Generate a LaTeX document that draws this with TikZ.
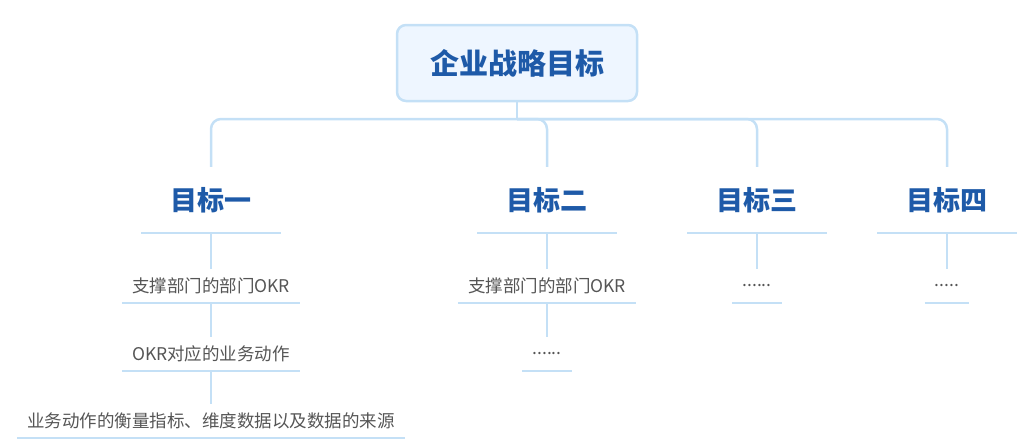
\documentclass[tikz,border=0pt]{standalone}
\usepackage{fontspec}
\setmainfont{Noto Sans CJK SC}
\usetikzlibrary{positioning}
\definecolor{goal_blue}{RGB}{30,90,168}
\definecolor{line_blue}{RGB}{196,224,246}
\definecolor{box_fill}{RGB}{238,246,255}
\definecolor{item_grey}{RGB}{85,85,85}

\tikzset{
  rootbox/.style={draw=line_blue, line width=2.5pt, fill=box_fill, rounded corners=9pt,
    minimum width=240pt, minimum height=76pt, text=goal_blue,
    font=\fontsize{29}{34}\selectfont\bfseries},
  goal/.style={minimum width=139pt, minimum height=66pt, text=goal_blue,
    font=\fontsize{27}{32}\selectfont\bfseries},
  item/.style={minimum height=34pt, inner xsep=10pt, text=item_grey,
    font=\fontsize{17.5}{21}\selectfont},
  link/.style={line_blue, line width=2.5pt, rounded corners=10pt},
  thinlink/.style={line_blue, line width=1.5pt},
  uline/.style={line_blue, line width=1.5pt}
}

\begin{document}
\begin{tikzpicture}[x=1pt, y=-1pt]
  \useasboundingbox (0,0) rectangle (1024,440);
  % root
  \node[rootbox] (root) at (517,63) {企业战略目标};
  \coordinate (hub) at (517,119);
  % goals
  \node[goal] (g1) at (211,200) {目标一};
  \node[goal] (g2) at (547,200) {目标二};
  \node[goal] (g3) at (757,200) {目标三};
  \node[goal] (g4) at (947,200) {目标四};
  % items under goal 1
  \node[item] (s1) at (211,286) {支撑部门的部门OKR};
  \node[item] (s2) at (211,354) {OKR对应的业务动作};
  \node[item] (s3) at (211,421) {业务动作的衡量指标、维度数据以及数据的来源};
  % items under goal 2
  \node[item] (p1) at (547,286) {支撑部门的部门OKR};
  \node[item] (p2) at (547,354) {......};
  % goals 3 and 4
  \node[item] (q1) at (757,286) {......};
  \node[item] (r1) at (947,286) {.....};

  % connectors
  \draw[link] (root.south) -- (hub);
  \foreach \g in {g1,g2,g3,g4}
    \draw[link] (hub) -| (\g.north);
  \draw[thinlink] (g1.south) -- (s1.north);
  \draw[thinlink] (s1.south) -- (s2.north);
  \draw[thinlink] (s2.south) -- (s3.north);
  \draw[thinlink] (g2.south) -- (p1.north);
  \draw[thinlink] (p1.south) -- (p2.north);
  \draw[thinlink] (g3.south) -- (q1.north);
  \draw[thinlink] (g4.south) -- (r1.north);

  % underlines
  \foreach \n in {g1,g2,g3,g4,s1,s2,s3,p1,p2,q1,r1}
    \draw[uline] (\n.south west) -- (\n.south east);
\end{tikzpicture}
\end{document}
